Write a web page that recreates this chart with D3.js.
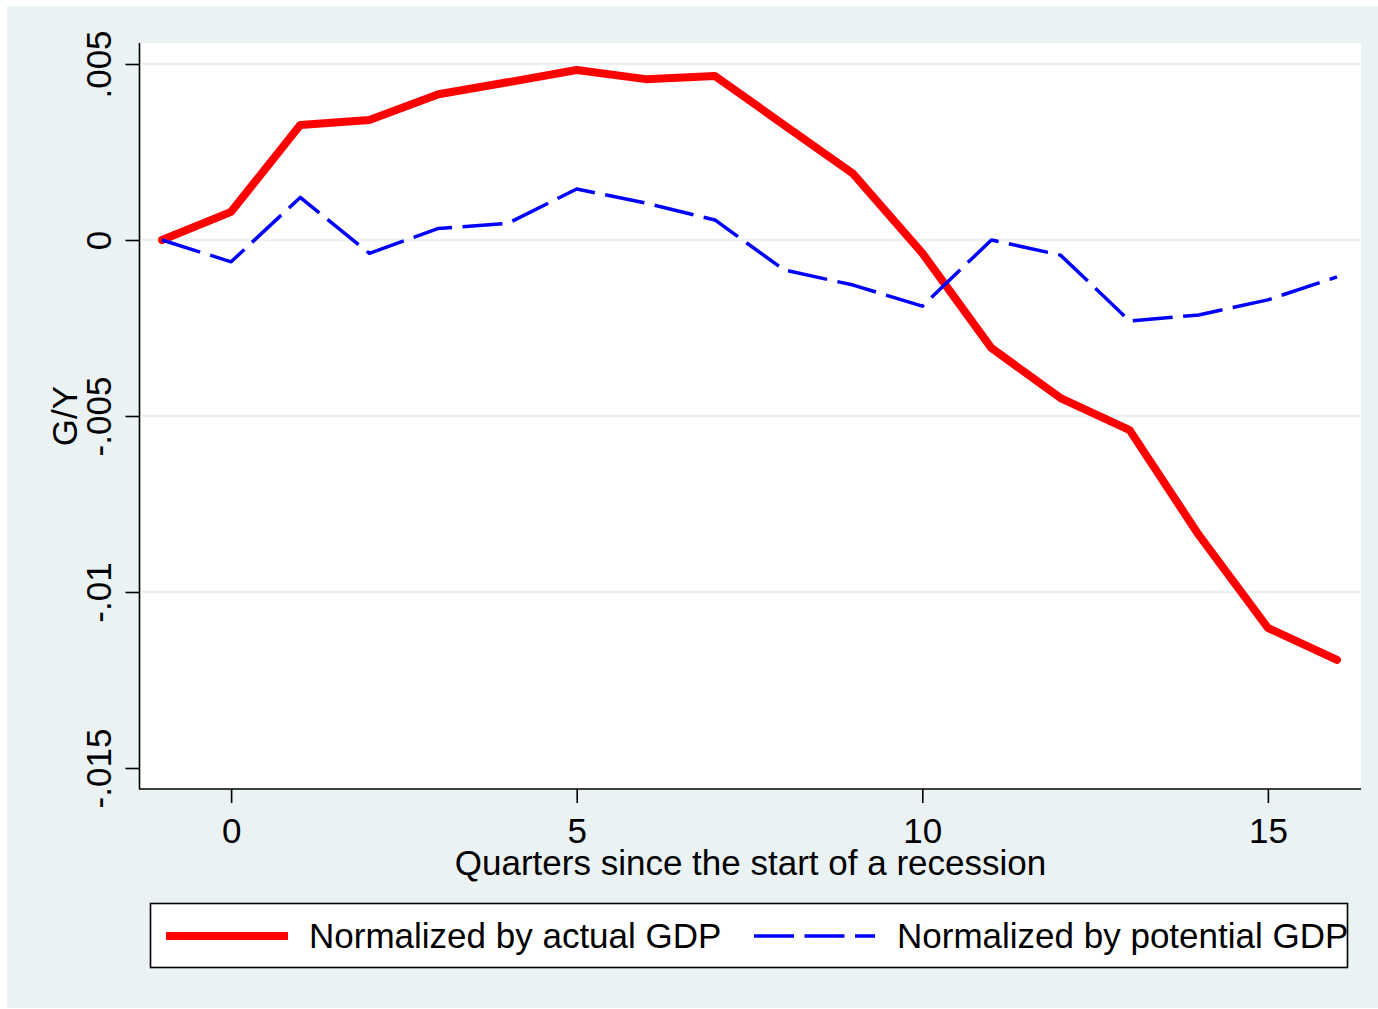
<!DOCTYPE html>
<html>
<head>
<meta charset="utf-8">
<script src="https://cdn.jsdelivr.net/npm/d3@7"></script>
<style>
  html, body { margin: 0; padding: 0; background: #ffffff; }
  svg text { font-family: "Liberation Sans", Arial, Helvetica, sans-serif; fill: #000; }
</style>
</head>
<body>
<svg id="chart" width="1378" height="1009"></svg>
<script>
// Quarters since the start of a recession
const quarters = [-1, 0, 1, 2, 3, 4, 5, 6, 7, 8, 9, 10, 11, 12, 13, 14, 15, 16];
// G/Y normalized by actual GDP
const actualGDP = [0, 0.00080, 0.00327, 0.00341, 0.00414, 0.00448, 0.00483, 0.00457, 0.00466, 0.00327, 0.00188, -0.00037, -0.00307, -0.00449, -0.00540, -0.00838, -0.01102, -0.01193];
// G/Y normalized by potential GDP
const potentialGDP = [0, -0.00062, 0.00121, -0.00038, 0.00033, 0.00047, 0.00145, 0.00105, 0.00057, -0.00085, -0.00128, -0.00188, 0, -0.00043, -0.00230, -0.00213, -0.00170, -0.00105];

const xTicks = [0, 5, 10, 15];
const yTicks = [0.005, 0, -0.005, -0.01, -0.015];
const yTickLabels = [".005", "0", "-.005", "-.01", "-.015"];
const gridValues = [0.005, 0, -0.005, -0.01];

const seriesNames = ["Normalized by actual GDP", "Normalized by potential GDP"];
const xTitle = "Quarters since the start of a recession";
const yTitle = "G/Y";

const svg = d3.select("#chart");
const FONT = 35;

// graph region background
svg.append("rect").attr("x", 7).attr("y", 6).attr("width", 1371).attr("height", 1002).attr("fill", "#eaf2f3");

// plot region
const plot = { left: 140, right: 1361, top: 43, bottom: 789 };
svg.append("rect")
  .attr("x", plot.left).attr("y", plot.top)
  .attr("width", plot.right - plot.left).attr("height", plot.bottom - plot.top)
  .attr("fill", "#ffffff");

const x = d3.scaleLinear().domain([-1, 16]).range([162, 1337]);
const y = d3.scaleLinear().domain([-0.015, 0.005]).range([768, 64]);

// gridlines
svg.append("g").selectAll("line").data(gridValues).join("line")
  .attr("x1", plot.left).attr("x2", plot.right)
  .attr("y1", d => y(d)).attr("y2", d => y(d))
  .attr("stroke", "#eaf2f3").attr("stroke-width", 2.6);

// y axis
const yAxis = d3.axisLeft(y).tickValues(yTicks).tickSize(14).tickFormat((d, i) => yTickLabels[i]);
const gy = svg.append("g").attr("transform", `translate(${plot.left - 0.5},0)`).call(yAxis);
gy.select(".domain").attr("d", `M0,${plot.top}V${plot.bottom}`).attr("stroke", "#000").attr("stroke-width", 1.6);
gy.selectAll(".tick line").attr("stroke", "#000").attr("stroke-width", 1.6);
gy.selectAll(".tick text")
  .attr("font-size", FONT)
  .attr("x", null).attr("dy", null)
  .attr("text-anchor", "middle")
  .attr("transform", "translate(-29,0) rotate(-90)");

// x axis
const xAxis = d3.axisBottom(x).tickValues(xTicks).tickSize(14).tickFormat(d3.format("d"));
const gx = svg.append("g").attr("transform", `translate(0,${plot.bottom})`).call(xAxis);
gx.select(".domain").attr("d", `M${plot.left - 1},0H${plot.right}`).attr("stroke", "#000").attr("stroke-width", 1.6);
gx.selectAll(".tick line").attr("stroke", "#000").attr("stroke-width", 1.6);
gx.selectAll(".tick text")
  .attr("font-size", FONT)
  .attr("y", 54).attr("dy", null);

// axis titles
svg.append("text").attr("x", (plot.left + plot.right) / 2).attr("y", 875)
  .attr("text-anchor", "middle").attr("font-size", FONT).text(xTitle);
svg.append("text").attr("transform", `translate(77,${(plot.top + plot.bottom) / 2}) rotate(-90)`)
  .attr("text-anchor", "middle").attr("font-size", FONT).text(yTitle);

// series lines
const line = d3.line().x(d => x(d[0])).y(d => y(d[1]));
svg.append("path")
  .datum(quarters.map((q, i) => [q, actualGDP[i]]))
  .attr("d", line).attr("fill", "none")
  .attr("stroke", "#ff0000").attr("stroke-width", 8)
  .attr("stroke-linejoin", "round").attr("stroke-linecap", "round");
svg.append("path")
  .datum(quarters.map((q, i) => [q, potentialGDP[i]]))
  .attr("d", line).attr("fill", "none")
  .attr("stroke", "#0000ff").attr("stroke-width", 3.5)
  .attr("stroke-dasharray", "40,10.5")
  .attr("stroke-linejoin", "round");

// legend
const lg = svg.append("g");
lg.append("rect").attr("x", 150.5).attr("y", 903.5).attr("width", 1197).attr("height", 64)
  .attr("fill", "#ffffff").attr("stroke", "#000").attr("stroke-width", 1.6);
lg.append("line").attr("x1", 166).attr("x2", 288).attr("y1", 936).attr("y2", 936)
  .attr("stroke", "#ff0000").attr("stroke-width", 8);
lg.append("text").attr("x", 309).attr("y", 948).attr("font-size", FONT).text(seriesNames[0]);
lg.append("line").attr("x1", 754).attr("x2", 875).attr("y1", 936).attr("y2", 936)
  .attr("stroke", "#0000ff").attr("stroke-width", 3.5).attr("stroke-dasharray", "40,10.5");
lg.append("text").attr("x", 897).attr("y", 948).attr("font-size", FONT).text(seriesNames[1]);
</script>
</body>
</html>
